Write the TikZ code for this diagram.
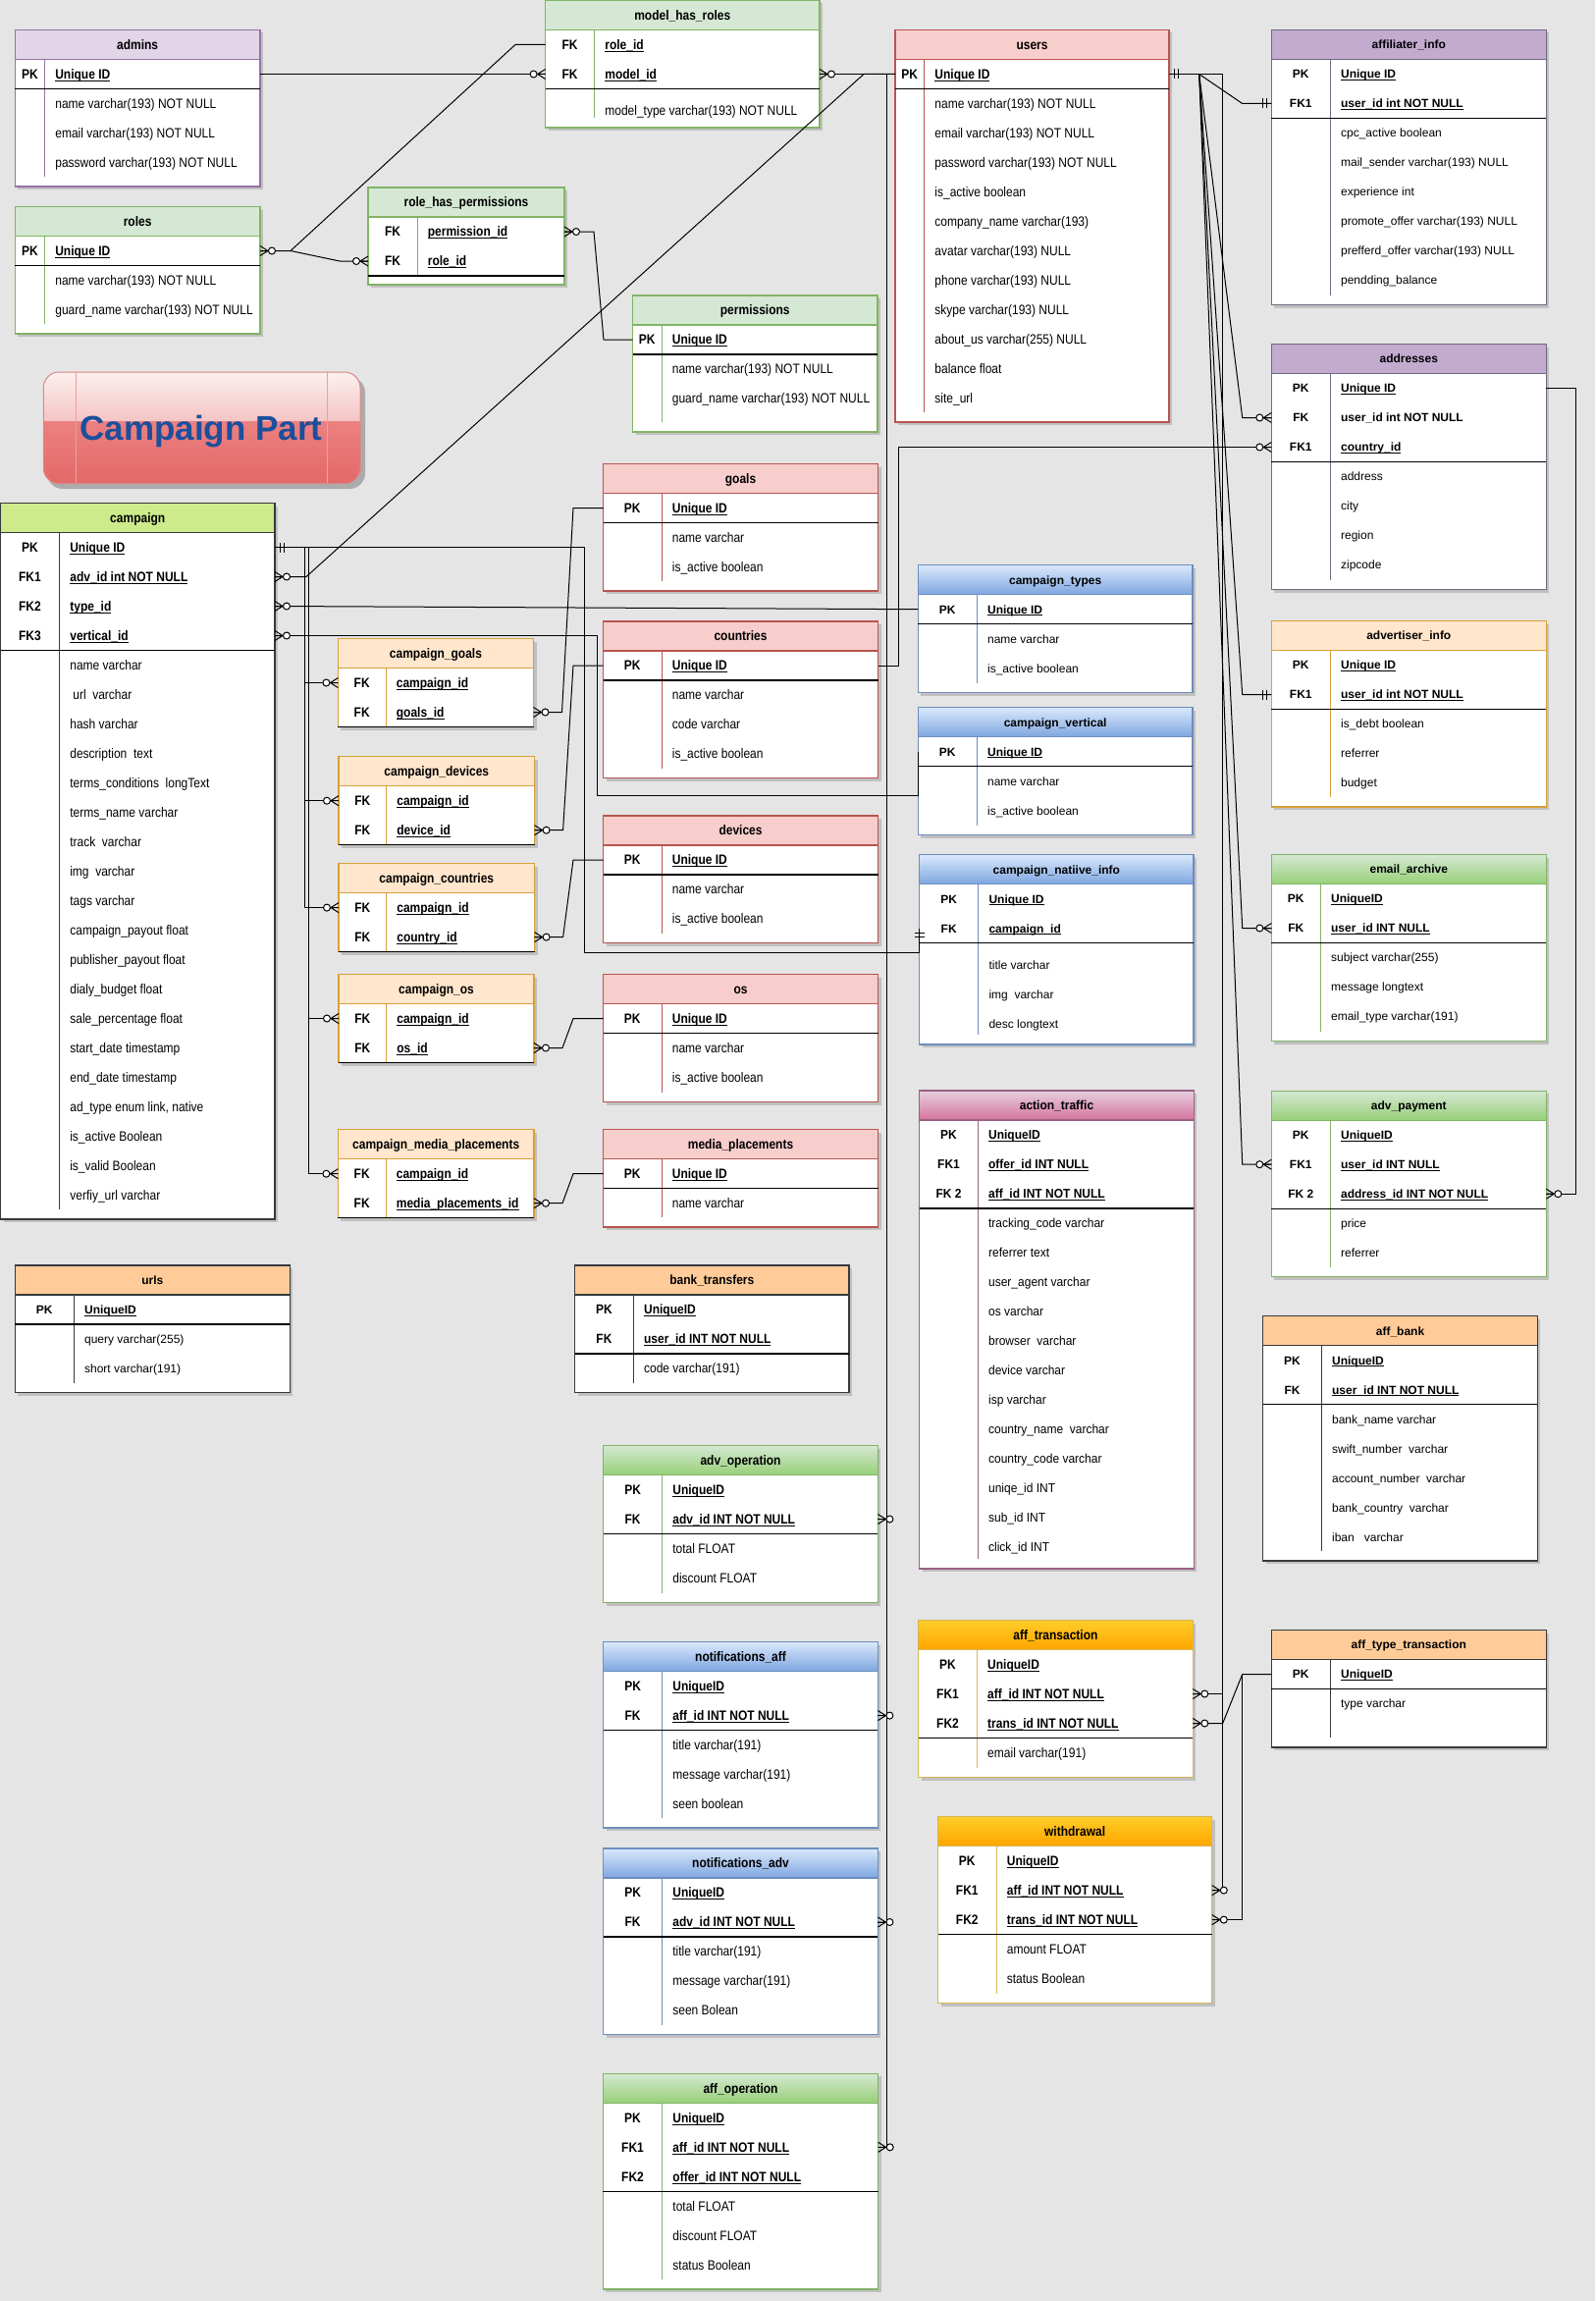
\documentclass[tikz,border=0pt]{standalone}
\usepackage{fontspec}
\usepackage{graphicx}
\setmainfont{Liberation Sans}

% underline drawn just below the baseline
\newsavebox\ulbox
\newcommand\uline[1]{\sbox\ulbox{#1}\rlap{\rule[-2.2pt]{\wd\ulbox}{0.9pt}}\usebox\ulbox}

% canvas and button colours
\definecolor{bgc}{HTML}{E5E5E5}
\definecolor{btnlow}{HTML}{E46868}
\definecolor{btnmid}{HTML}{F29494}
\definecolor{btnhitop}{HTML}{FDF0F0}
\definecolor{btnhibot}{HTML}{F5C5C5}
\definecolor{btnline}{HTML}{EBA0A0}
\definecolor{btnedge}{HTML}{D98888}
\definecolor{cpblue}{HTML}{1C4F9C}

% table families: header fill and border
\definecolor{lav-fill}{HTML}{E1D5E7}\definecolor{lav-bd}{HTML}{9673A6}
\definecolor{grn-fill}{HTML}{D5E8D4}\definecolor{grn-bd}{HTML}{82B366}
\definecolor{red-fill}{HTML}{F8CECC}\definecolor{red-bd}{HTML}{B85450}
\definecolor{lime-fill}{HTML}{CDEB8B}\definecolor{lime-bd}{HTML}{36393D}
\definecolor{pch-fill}{HTML}{FFE6CC}\definecolor{pch-bd}{HTML}{D9A03A}
\definecolor{pur-fill}{HTML}{C3ABD0}\definecolor{pur-bd}{HTML}{6E6A80}
\definecolor{org-fill}{HTML}{FFCC99}\definecolor{org-bd}{HTML}{36393D}
\definecolor{grnG-top}{HTML}{D5E8D4}\definecolor{grnG-bot}{HTML}{97D077}\definecolor{grnG-bd}{HTML}{82B366}
\definecolor{bluG-top}{HTML}{DAE8FC}\definecolor{bluG-bot}{HTML}{7EA6E0}\definecolor{bluG-bd}{HTML}{6C8EBF}
\definecolor{pnk-top}{HTML}{E6D0DE}\definecolor{pnk-bot}{HTML}{D5739D}\definecolor{pnk-bd}{HTML}{996185}
\definecolor{orgG-top}{HTML}{FFCD28}\definecolor{orgG-bot}{HTML}{FFA500}\definecolor{orgG-bd}{HTML}{D6B656}

\tikzset{
  hd-lav/.style={fill=lav-fill},
  hd-grn/.style={fill=grn-fill},
  hd-red/.style={fill=red-fill},
  hd-lime/.style={fill=lime-fill},
  hd-pch/.style={fill=pch-fill},
  hd-pur/.style={fill=pur-fill},
  hd-org/.style={fill=org-fill},
  hd-grnG/.style={top color=grnG-top,bottom color=grnG-bot},
  hd-bluG/.style={top color=bluG-top,bottom color=bluG-bot},
  hd-pnk/.style={top color=pnk-top,bottom color=pnk-bot},
  hd-orgG/.style={top color=orgG-top,bottom color=orgG-bot},
  conn/.style={draw=black,line width=1,line join=round},
  zm/.pic={
    \draw[black,line width=1] (0,-5)--(8,0)--(0,5) (0,0)--(8,0);
    \draw[black,line width=1,fill=white] (12,0) circle (3.5);
  },
  om/.pic={
    \draw[black,line width=1] (5,-5)--(5,5) (9,-5)--(9,5);
  }
}

\newcommand\erfont{\fontsize{12}{14}\selectfont}
\newcommand\vs[1]{\scalebox{1}[\tVS]{#1}}
\newcount\tkcnt
\def\tAF{15}
% geometry: id, family, left, top, right, key divider x, bottom, glyph stretch
\newcommand\tblgeom[8]{\def\tId{#1}\def\tFam{#2}\def\tL{#3}\def\tT{#4}\def\tR{#5}\def\tD{#6}\def\tB{#7}\def\tVS{#8}}
% body: title, key rows (label/text), attribute rows
\newcommand\tbldraw[3]{%
  \global\tkcnt=0
  \foreach \ax in {#2}{\global\advance\tkcnt by 1}%
  \pgfmathsetmacro\tH{\tT+30}%
  \pgfmathsetmacro\tS{\tH+30*\the\tkcnt}%
  \pgfmathsetmacro\tDE{max(\tS,\tB-10)}%
  \pgfmathsetmacro\tMid{(\tL+\tR)/2}%
  \pgfmathsetmacro\tKC{(\tL+\tD)/2}%
  \pgfmathsetmacro\tBL{4.3*\tVS}%
  \colorlet{tbd}{\tFam-bd}%
  \fill[black,opacity=.16] (\tL+3,\tT+3) rectangle (\tR+3,\tB+3);
  \fill[white] (\tL,\tT) rectangle (\tR,\tB);
  \edef\hdpath{\noexpand\path[hd-\tFam]}%
  \hdpath (\tL,\tT) rectangle (\tR,\tH);
  \draw[tbd,line width=1] (\tD,\tH) -- (\tD,\tDE);
  \draw[tbd,line width=1.2] (\tL,\tH) -- (\tR,\tH);
  \draw[tbd,line width=1.2] (\tL,\tT) rectangle (\tR,\tB);
  \draw[black,line width=1.2] (\tL,\tS) -- (\tR,\tS);
  \node[font=\erfont\bfseries,anchor=base] (\tId-title) at (\tMid,\tT+15+\tBL) {\vs{#1}};
  \foreach \kx/\tx [count=\ri] in {#2}{%
    \pgfmathsetmacro\yy{\tH+15+30*(\ri-1)}%
    \coordinate (\tId-k\ri-l) at (\tL,\yy);
    \coordinate (\tId-k\ri-r) at (\tR,\yy);
    \node[font=\erfont\bfseries,anchor=base] at (\tKC,\yy+\tBL) {\vs{\kx}};
    \node[font=\erfont\bfseries,anchor=base west] at (\tD+7.3,\yy+\tBL) {\vs{\tx}};
  }%
  \def\tmpattr{#3}%
  \ifx\tmpattr\empty\else
    \foreach \tx [count=\rj] in {#3}{%
      \node[font=\erfont,anchor=base west] at (\tD+7.3,\tS+\tAF+\tBL+30*\rj-30) {\vs{\tx}};
    }%
  \fi
  \def\tAF{15}%
}

\begin{document}
\catcode`\_=12
\begin{tikzpicture}[x=1pt,y=-1pt]
\useasboundingbox (0,0) rectangle (1625,2344);
\fill[bgc] (0,0) rectangle (1625,2344);

% ---------- title button ----------
\fill[black,opacity=.25,rounded corners=16] (48,384) rectangle (372,498);
\shade[rounded corners=16,top color=btnmid,bottom color=btnlow] (44.3,379) rectangle (367,492.7);
\begin{scope}
  \clip[rounded corners=16] (44.3,379) rectangle (367,492.7);
  \shade[top color=btnhitop,bottom color=btnhibot] (44.3,379) rectangle (367,428);
  \draw[btnline,line width=1] (77,379) -- (77,492.7) (333,379) -- (333,492.7);
\end{scope}
\draw[btnedge,line width=1,rounded corners=16] (44.3,379) rectangle (367,492.7);
\node[font=\fontsize{35}{40}\selectfont\bfseries,text=cpblue,anchor=base] (cpart) at (205,448) {Campaign Part};

% ---------- access control ----------
\tblgeom{admins}{lav}{15.3}{30.5}{265}{45.5}{190}{1.15}
\tbldraw{admins}{PK/\uline{Unique ID}}{name varchar(193) NOT NULL,email varchar(193) NOT NULL,password varchar(193) NOT NULL}

\tblgeom{roles}{grn}{15.3}{210.5}{265}{45.5}{340}{1.15}
\tbldraw{roles}{PK/\uline{Unique ID}}{name varchar(193) NOT NULL,guard_name varchar(193) NOT NULL}

\tblgeom{rhp}{grn}{375}{191}{575}{425}{290}{1.15}
\tbldraw{role_has_permissions}{FK/\uline{permission_id},FK/\uline{role_id}}{}

\def\tAF{22}
\tblgeom{mhr}{grn}{555.6}{0.5}{835}{605.5}{130}{1.15}
\tbldraw{model_has_roles}{FK/\uline{role_id},FK/\uline{model_id}}{model_type varchar(193) NOT NULL}

\tblgeom{perm}{grn}{644.5}{301}{894}{674}{440}{1.15}
\tbldraw{permissions}{PK/\uline{Unique ID}}{name varchar(193) NOT NULL,guard_name varchar(193) NOT NULL}

\tblgeom{users}{red}{912}{30.5}{1191}{941.6}{430}{1.15}
\tbldraw{users}{PK/\uline{Unique ID}}{name varchar(193) NOT NULL,email varchar(193) NOT NULL,password varchar(193) NOT NULL,is_active boolean,company_name varchar(193),avatar varchar(193) NULL,phone varchar(193) NULL,skype varchar(193) NULL,about_us varchar(255) NULL,balance float,site_url}

\tblgeom{aff}{pur}{1295.3}{30.5}{1575.3}{1355.3}{310.5}{1}
\tbldraw{affiliater_info}{PK/\uline{Unique ID},FK1/\uline{user_id int NOT NULL}}{cpc_active boolean,mail_sender varchar(193) NULL,experience int,promote_offer varchar(193) NULL,prefferd_offer varchar(193) NULL,pendding_balance}

\tblgeom{addr}{pur}{1295.3}{350.5}{1575.3}{1355.3}{600.5}{1}
\tbldraw{addresses}{PK/\uline{Unique ID},FK/user_id int NOT NULL,FK1/\uline{country_id}}{address,city,region,zipcode}

% ---------- campaign part ----------
\tblgeom{camp}{lime}{0.5}{512.5}{280}{60.5}{1242}{1.15}
\tbldraw{campaign}{PK/\uline{Unique ID},FK1/\uline{adv_id int NOT NULL},FK2/\uline{type_id},FK3/\uline{vertical_id}}{name varchar,\hspace{3pt}url\ \ varchar,hash varchar,description\ \ text,terms_conditions\ \ longText,terms_name varchar,track\ \ varchar,img\ \ varchar,tags varchar,campaign_payout float,publisher_payout float,dialy_budget float,sale_percentage float,start_date timestamp,end_date timestamp,{ad_type enum link, native},is_active Boolean,is_valid Boolean,verfiy_url varchar}

\tblgeom{goals}{red}{614.6}{472.5}{894.5}{674}{602}{1.15}
\tbldraw{goals}{PK/\uline{Unique ID}}{name varchar,is_active boolean}
\tblgeom{ctry}{red}{614.6}{633}{894.5}{674}{792.5}{1.15}
\tbldraw{countries}{PK/\uline{Unique ID}}{name varchar,code varchar,is_active boolean}
\tblgeom{dev}{red}{614.6}{831}{894.5}{674}{960.5}{1.15}
\tbldraw{devices}{PK/\uline{Unique ID}}{name varchar,is_active boolean}
\tblgeom{os}{red}{614.6}{992.5}{894.5}{674}{1122.5}{1.15}
\tbldraw{os}{PK/\uline{Unique ID}}{name varchar,is_active boolean}
\tblgeom{media}{red}{614.6}{1150.7}{894.5}{674}{1250}{1.15}
\tbldraw{media_placements}{PK/\uline{Unique ID}}{name varchar}

\tblgeom{cgoals}{pch}{344.4}{650.5}{543.5}{393}{740.5}{1.15}
\tbldraw{campaign_goals}{FK/\uline{campaign_id},FK/\uline{goals_id}}{}
\tblgeom{cdev}{pch}{345}{770.7}{544.6}{393.5}{860.7}{1.15}
\tbldraw{campaign_devices}{FK/\uline{campaign_id},FK/\uline{device_id}}{}
\tblgeom{cctry}{pch}{345}{879.6}{544.6}{393.5}{969.6}{1.15}
\tbldraw{campaign_countries}{FK/\uline{campaign_id},FK/\uline{country_id}}{}
\tblgeom{cos}{pch}{345}{992.5}{544}{393.5}{1082.5}{1.15}
\tbldraw{campaign_os}{FK/\uline{campaign_id},FK/\uline{os_id}}{}
\tblgeom{cmedia}{pch}{344.4}{1150.7}{544}{393}{1240.7}{1.15}
\tbldraw{campaign_media_placements}{FK/\uline{campaign_id},FK/\uline{media_placements_id}}{}

\tblgeom{ctypes}{bluG}{935.3}{575.7}{1215}{995.3}{705.5}{1}
\tbldraw{campaign_types}{PK/\uline{Unique ID}}{name varchar,is_active boolean}
\tblgeom{cvert}{bluG}{935.3}{720.7}{1215}{995.3}{850.5}{1}
\tbldraw{campaign_vertical}{PK/\uline{Unique ID}}{name varchar,is_active boolean}
\def\tAF{22}
\tblgeom{cnat}{bluG}{936.7}{870.7}{1216}{996.7}{1064}{1}
\tbldraw{campaign_natiive_info}{PK/\uline{Unique ID},FK/\uline{campaign_id}}{title varchar,img\ \ varchar,desc longtext}

% ---------- users side ----------
\tblgeom{adv}{pch}{1295.3}{632.6}{1575.3}{1355.3}{822}{1}
\tbldraw{advertiser_info}{PK/\uline{Unique ID},FK1/\uline{user_id int NOT NULL}}{is_debt boolean,referrer,budget}

\tblgeom{email}{grnG}{1295.3}{870.5}{1575.3}{1345.3}{1060.5}{1}
\tbldraw{email_archive}{PK/\uline{UniqueID},FK/\uline{user_id INT NULL}}{subject varchar(255),message longtext,email_type varchar(191)}

\tblgeom{advpay}{grnG}{1295.3}{1111.2}{1575.3}{1355.3}{1300.5}{1}
\tbldraw{adv_payment}{PK/\uline{UniqueID},FK1/\uline{user_id INT NULL},FK 2/\uline{address_id INT NOT NULL}}{price,referrer}

\tblgeom{traffic}{pnk}{936.7}{1110.9}{1216.3}{996.3}{1598}{1.08}
\tbldraw{action_traffic}{PK/\uline{UniqueID},FK1/\uline{offer_id INT NULL},FK 2/\uline{aff_id INT NOT NULL}}{tracking_code varchar,referrer text,user_agent varchar,os varchar,browser\ \ varchar,device varchar,isp varchar,country_name\ \ varchar,country_code varchar,uniqe_id INT,sub_id INT,click_id INT}

\tblgeom{urls}{org}{15.3}{1289}{295.3}{75.3}{1418.7}{1}
\tbldraw{urls}{PK/\uline{UniqueID}}{query varchar(255),short varchar(191)}

\tblgeom{bank}{org}{585.6}{1289}{865}{645.3}{1418.5}{1.12}
\tbldraw{bank_transfers}{PK/\uline{UniqueID},FK/\uline{user_id INT NOT NULL}}{code varchar(191)}

\tblgeom{affbank}{org}{1286.7}{1340.8}{1566.3}{1346.3}{1590}{1}
\tbldraw{aff_bank}{PK/\uline{UniqueID},FK/\uline{user_id INT NOT NULL}}{bank_name varchar,swift_number\ \ varchar,account_number\ \ varchar,bank_country\ \ varchar,iban\ \ \ varchar}

\tblgeom{afftype}{org}{1295.3}{1660.5}{1575.3}{1355.3}{1780}{1}
\tbldraw{aff_type_transaction}{PK/\uline{UniqueID}}{type varchar}

\tblgeom{advop}{grnG}{614.7}{1472.5}{894.4}{674.5}{1632.5}{1.15}
\tbldraw{adv_operation}{PK/\uline{UniqueID},FK/\uline{adv_id INT NOT NULL}}{total FLOAT,discount FLOAT}

\tblgeom{notaff}{bluG}{614.7}{1672.6}{894.4}{674.5}{1862}{1.15}
\tbldraw{notifications_aff}{PK/\uline{UniqueID},FK/\uline{aff_id INT NOT NULL}}{title varchar(191),message varchar(191),seen boolean}

\tblgeom{notadv}{bluG}{614.7}{1883}{894.4}{674.5}{2072.5}{1.15}
\tbldraw{notifications_adv}{PK/\uline{UniqueID},FK/\uline{adv_id INT NOT NULL}}{title varchar(191),message varchar(191),seen Bolean}

\tblgeom{affop}{grnG}{614.4}{2112.3}{894.7}{674.6}{2332}{1.15}
\tbldraw{aff_operation}{PK/\uline{UniqueID},FK1/\uline{aff_id INT NOT NULL},FK2/\uline{offer_id INT NOT NULL}}{total FLOAT,discount FLOAT,status Boolean}

\tblgeom{afftr}{orgG}{935.6}{1650.5}{1215.3}{995.4}{1810.5}{1.15}
\tbldraw{aff_transaction}{PK/\uline{UniqueID},FK1/\uline{aff_id INT NOT NULL},FK2/\uline{trans_id INT NOT NULL}}{email varchar(191)}

\tblgeom{wd}{orgG}{955.5}{1850.6}{1234.8}{1015}{2040.5}{1.15}
\tbldraw{withdrawal}{PK/\uline{UniqueID},FK1/\uline{aff_id INT NOT NULL},FK2/\uline{trans_id INT NOT NULL}}{amount FLOAT,status Boolean}

% ---------- bend points ----------
\coordinate (fan) at (1221.7,75.5);
\coordinate (fanx) at (1265.7,75.5);
\coordinate (trunkR) at (1245.7,75.5);
\coordinate (trunkL) at (903,75.5);
\coordinate (ct1) at (310,557.5);
\coordinate (ct2) at (314,557.5);
\coordinate (rj) at (296,255.5);
\coordinate (aj) at (312,587.5);
\coordinate (cj) at (915,678);
\coordinate (vj) at (608,647.5);
\coordinate (vjb) at (608,810);
\coordinate (pj) at (595,557.5);
\coordinate (pjb) at (595,970);
\coordinate (tj) at (1265.7,1705.5);
\coordinate (addrj) at (1605,395.5);

% ---------- connectors ----------
\draw[conn] (admins-k1-r) -- (mhr-k2-l);
\draw[conn] (roles-k1-r) -- (rj) -- (525,45.5) -- (mhr-k1-l);
\draw[conn] (rj) -- (346,266) -- (rhp-k2-l);
\draw[conn] (rhp-k1-r) -- (605,236) -- (615,346) -- (perm-k1-l);
\draw[conn] (mhr-k2-r) -- (users-k1-l);
\draw[conn] (camp-k2-r) -- (aj) -- (880,75.5) -- (users-k1-l);

\draw[conn] (users-k1-l) -- (trunkL) -- (trunkL |- affop-k2-r) -- (affop-k2-r);
\draw[conn] (trunkL |- advop-k2-r) -- (advop-k2-r);
\draw[conn] (trunkL |- notaff-k2-r) -- (notaff-k2-r);
\draw[conn] (trunkL |- notadv-k2-r) -- (notadv-k2-r);

\draw[conn] (users-k1-r) -- (fan);
\foreach \tx in {aff,addr,adv,email,advpay}
  \draw[conn] (fan) -- (fanx |- \tx-k2-l) -- (\tx-k2-l);
\draw[conn] (fan) -- (trunkR) -- (trunkR |- wd-k2-r) -- (wd-k2-r);
\draw[conn] (trunkR |- afftr-k2-r) -- (afftr-k2-r);
\draw[conn] (afftype-k1-l) -- (tj) -- (trunkR |- afftr-k3-r) -- (afftr-k3-r);
\draw[conn] (tj) -- (tj |- wd-k3-r) -- (wd-k3-r);

\draw[conn] (addr-k1-r) -- (addrj) -- (addrj |- advpay-k3-r) -- (advpay-k3-r);
\draw[conn] (ctry-k1-r) -- (cj) -- (cj |- addr-k3-l) -- (addr-k3-l);

\draw[conn] (camp-k1-r) -- (pj) -- (pjb) -- (cnat-k2-l |- pjb) -- (cnat-k2-l);
\draw[conn] (ct1) -- (ct1 |- cctry-k1-l) -- (cctry-k1-l);
\draw[conn] (ct1 |- cgoals-k1-l) -- (cgoals-k1-l);
\draw[conn] (ct1 |- cdev-k1-l) -- (cdev-k1-l);
\draw[conn] (ct2) -- (ct2 |- cmedia-k1-l) -- (cmedia-k1-l);
\draw[conn] (ct2 |- cos-k1-l) -- (cos-k1-l);
\draw[conn] (camp-k3-r) -- (ctypes-k1-l);
\draw[conn] (camp-k4-r) -- (vj) -- (vjb) -- (cvert-k1-l |- vjb) -- (cvert-k1-l);

\foreach \ax/\bx in {cgoals/goals,cdev/ctry,cctry/dev,cos/os,cmedia/media}
  \draw[conn] (\ax-k2-r) -- ++(29,0) -- ([xshift=-30.6pt]\bx-k1-l) -- (\bx-k1-l);

% ---------- cardinality marks ----------
\pic[rotate=180] at (mhr-k2-l) {zm};
\pic at (roles-k1-r) {zm};
\pic[rotate=180] at (rhp-k2-l) {zm};
\pic at (rhp-k1-r) {zm};
\pic at (mhr-k2-r) {zm};
\pic at (camp-k2-r) {zm};
\foreach \tx in {advop,notaff,notadv,affop} \pic at (\tx-k2-r) {zm};
\pic at (users-k1-r) {om};
\pic[rotate=180] at (aff-k2-l) {om};
\pic[rotate=180] at (adv-k2-l) {om};
\foreach \tx in {addr,email,advpay} \pic[rotate=180] at (\tx-k2-l) {zm};
\pic at (wd-k2-r) {zm};
\pic at (afftr-k2-r) {zm};
\pic at (afftr-k3-r) {zm};
\pic at (wd-k3-r) {zm};
\pic at (advpay-k3-r) {zm};
\pic[rotate=180] at (addr-k3-l) {zm};
\pic at (camp-k1-r) {om};
\pic[rotate=-90] at (cnat-k2-l) {om};
\pic at (camp-k3-r) {zm};
\pic at (camp-k4-r) {zm};
\foreach \tx in {cgoals,cdev,cctry,cos,cmedia} {
  \pic[rotate=180] at (\tx-k1-l) {zm};
  \pic at (\tx-k2-r) {zm};
}
\end{tikzpicture}
\end{document}
